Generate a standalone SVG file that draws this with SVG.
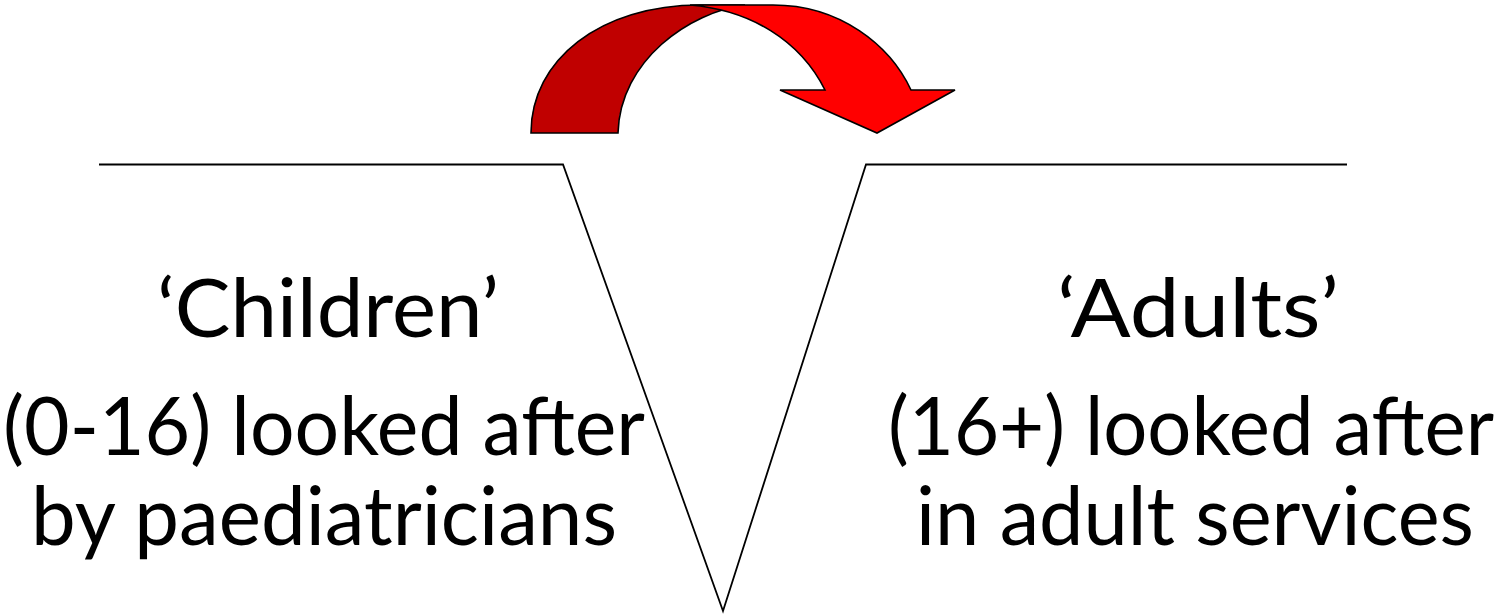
<svg xmlns="http://www.w3.org/2000/svg" width="1506" height="614" viewBox="0 0 1506 614">
<style>
.t{font-family:Lato,"Open Sans","Liberation Sans",sans-serif;font-size:82px;fill:#000;text-anchor:middle}
.ln{fill:none;stroke:#000;stroke-width:1.8;stroke-linejoin:miter}
.ar{stroke:#000;stroke-width:1.6;stroke-linejoin:miter}
</style>
<rect width="1506" height="614" fill="#fff"/>
<g id="connectors">
<polyline class="ln" points="99,164.5 563,164.5 723,611 866,164.5 1347,164.5"/>
</g>
<g id="arrow">
<path class="ar" fill="#C00000" d="M531,133 C531,60 600,5 700,5 L745,5 C690,12 620,60 618,133 Z"/>
<path class="ar" fill="#FF0000" d="M690,5 L773,5 C840,5 890,45 911,90 L955,90 L877,133 L780,90 L825,90 C800,40 750,10 690,5 Z"/>
</g>
<g id="children">
<text class="t" x="328" y="337" textLength="342" lengthAdjust="spacingAndGlyphs">‘Children’</text>
<text class="t" x="324" y="455" textLength="642" lengthAdjust="spacingAndGlyphs">(0-16) looked after</text>
<text class="t" x="324" y="545" textLength="586" lengthAdjust="spacingAndGlyphs">by paediatricians</text>
</g>
<g id="adults">
<text class="t" x="1198" y="337" textLength="282" lengthAdjust="spacingAndGlyphs">‘Adults’</text>
<text class="t" x="1191" y="455" textLength="606" lengthAdjust="spacingAndGlyphs">(16+) looked after</text>
<text class="t" x="1195" y="545" textLength="558" lengthAdjust="spacingAndGlyphs">in adult services</text>
</g>
</svg>
